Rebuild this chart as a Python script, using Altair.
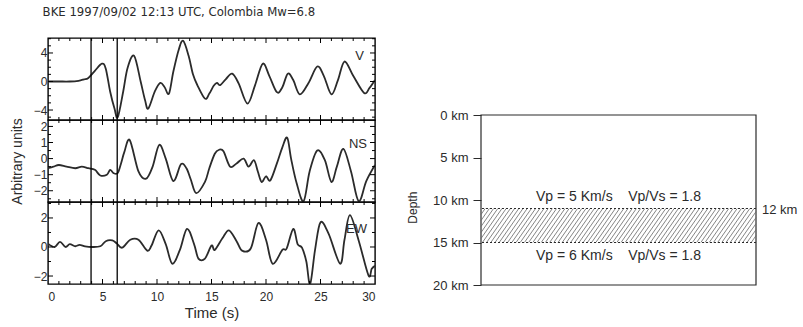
import altair as alt
import pandas as pd
import numpy as np

TITLE = "BKE 1997/09/02 12:13 UTC, Colombia Mw=6.8"
FONT = "Liberation Sans"
NARROW = "Liberation Sans Narrow, DejaVu Sans Condensed, Liberation Sans"

# ---- seismogram traces (time in s, arbitrary units) ----
v_t = [0, 1.0, 2.0, 2.8, 3.3, 3.7, 4.3, 4.95, 5.3, 5.7, 6.1, 6.4, 6.9, 7.3, 7.9,
       8.5, 8.9, 9.2, 9.8, 10.3, 10.7, 11.1, 11.5, 12.0, 12.4, 12.9, 13.3, 13.7,
       14.4, 14.8, 15.2, 15.5, 15.8, 16.3, 16.9, 17.5, 18.3, 19.0, 19.7, 20.3,
       21.0, 21.5, 22.0, 22.5, 23.1, 23.9, 24.7, 25.3, 26.0, 26.6, 27.2, 28.0,
       29.0, 29.5, 30.0]
v_amp = [0, 0, 0, 0.1, 0.3, 0.5, 1.5, 2.5, 1.8, -1.4, -3.8, -5.0, -1.4, 1.9, 3.6,
         0.0, -2.6, -3.8, -1.4, -0.2, -0.8, -1.7, 1.4, 4.5, 5.7, 3.6, 1.0, -0.5,
         -2.4, -1.7, -0.6, -0.2, -0.5, 0.3, 1.1, -0.3, -3.1, -0.5, 2.5, 0.8,
         -1.5, -0.8, 1.1, 0.2, -1.8, -0.2, 2.1, 0.8, -1.8, 0.2, 2.8, 0.8,
         -1.6, -0.9, 0.2]

ns_t = [0, 0.5, 1.0, 1.7, 2.5, 3.1, 3.7, 4.3, 4.8, 5.4, 5.7, 6.0, 6.4, 6.7, 7.0,
        7.5, 8.3, 9.0, 9.6, 10.2, 10.8, 11.5, 12.2, 12.7, 13.1, 13.6, 14.4, 14.8,
        15.3, 15.7, 16.1, 16.7, 17.3, 17.95, 18.4, 18.9, 19.25, 19.6, 20.0, 20.4,
        21.0, 21.5, 21.95, 22.3, 22.8, 23.45, 24.0, 24.7, 25.4, 26.0, 26.5, 27.1,
        27.8, 28.5, 29.2, 30.0]
ns_amp = [-0.6, -0.5, -0.4, -0.5, -0.6, -0.5, -0.6, -0.7, -1.05, -1.0, -0.7, -0.9,
          -0.9, -0.3, 0.4, 1.15, -0.8, -1.25, -0.5, 0.85, 0.0, -1.4, -0.35, -0.6,
          -1.3, -2.15, -1.45, -0.6, 0.3, 0.55, 0.45, -0.5, -0.3, 0.0, -0.5, -0.1,
          -0.8, -1.45, -1.1, -1.35, -0.3, 0.7, 1.3, 0.0, -1.5, -2.65, -0.8, 0.5,
          -0.1, -1.45, -0.5, 0.6, -0.8, -2.65, -1.4, -0.4]

ew_t = [0, 0.6, 1.1, 1.6, 2.0, 2.5, 2.9, 3.4, 4.0, 4.8, 5.3, 5.9, 6.3, 6.8, 7.55,
        8.3, 9.1, 9.5, 10.15, 10.8, 11.4, 12.1, 12.75, 13.4, 13.8, 14.4, 15.0,
        15.3, 16.0, 16.6, 17.3, 17.8, 18.6, 19.3, 20.0, 20.6, 21.5, 21.9, 22.5,
        22.9, 23.3, 23.7, 24.05, 24.5, 25.0, 25.75, 26.8, 27.2, 27.7, 28.5, 29.4,
        29.7, 30.0]
ew_amp = [0.23, 0.0, 0.35, 0.0, 0.2, 0.05, 0.15, 0.05, 0.0, 0.05, 0.4, 0.45, 0.25,
          -0.05, 0.5, 0.5, -0.25, 0.1, 1.15, 0.2, -1.15, -0.2, 1.25, 0.2, -0.8,
          -0.8, 0.1, -0.2, 0.6, 1.15, 0.4, -0.25, -0.1, 1.65, 0.5, -1.15, -0.2,
          -0.1, 1.25, 0.2, -0.05, -1.0, -2.55, -0.2, 1.7, 0.9, -1.15, 0.5, 2.2,
          0.45, -1.95, -1.5, -1.3]

picks = [3.95, 6.35]

x_major = [0, 5, 10, 15, 20, 25, 30]
x_minor = [t for t in range(0, 31) if t % 5 != 0]

v_domain, v_major, v_minor = [-5.4, 6.1], [-4, 0, 4], [-5, -3, -2, -1, 1, 2, 3, 5, 6]
ns_domain, ns_major, ns_minor = [-2.7, 2.4], [-2, -1, 0, 1, 2], [-2.5, -1.5, -0.5, 0.5, 1.5]
ew_domain, ew_major, ew_minor = [-2.55, 3.1], [-2, 0, 2], [-1, 1, 3]

# ---- depth model ----
depth_ticks = [0, 5, 10, 15, 20]
box_top, box_bottom = 0, 20
layer_top, layer_bottom = 11, 15
NB = "\u00a0"
upper_text = f"Vp{NB}={NB}5 Km/s{NB*4}Vp/Vs{NB}={NB}1.8"
lower_text = f"Vp{NB}={NB}6 Km/s{NB*4}Vp/Vs{NB}={NB}1.8"
upper_text_depth, lower_text_depth = 9.65, 16.6
layer_label, layer_label_depth = "12 km", 11.2
depth_label_depth = 10.9

W, H = 327, 82
RW, RH = 275, 247
depth_domain = [-9.06, 20]

ink = "#2b2b2b"


def panel(t, a, domain, major, minor, name, name_y, name_dx, bottom=False, ytitle=False):
    xs = alt.Scale(domain=[0, 30], nice=False, zero=False)
    ys = alt.Scale(domain=domain, nice=False, zero=False)
    if bottom:
        xaxis = alt.Axis(values=x_major, tickSize=0, domain=False, grid=False,
                         labelPadding=7, labelFontSize=12, title="Time (s)",
                         titleFontSize=15, titlePadding=3, format="d")
    else:
        xaxis = None
    yaxis = alt.Axis(values=major, tickSize=0, domain=False, grid=False,
                     labelPadding=1, labelFontSize=12, labelOverlap=False,
                     title="Arbitrary units" if ytitle else None,
                     titleFontSize=14, titlePadding=9)

    def X(f="t"):
        return alt.X(f + ":Q", scale=xs, axis=xaxis)

    def Y(f="a"):
        return alt.Y(f + ":Q", scale=ys, axis=yaxis)

    df = pd.DataFrame({"t": t, "a": a})
    line = alt.Chart(df).mark_line(interpolate="cardinal", color=ink, strokeWidth=1.8,
                                   clip=True).encode(x=X(), y=Y())
    pk = alt.Chart(pd.DataFrame({"t": picks})).mark_rule(color="black", strokeWidth=1.3).encode(x=X())
    layers = [line, pk]
    for vals, ln in ((x_minor, 3), ([5, 10, 15, 20, 25], 5)):
        d = pd.DataFrame({"t": vals})
        layers.append(alt.Chart(d).mark_rule(color="black", strokeWidth=1).encode(
            x=X(), y=alt.value(H), y2=alt.value(H - ln)))
        layers.append(alt.Chart(d).mark_rule(color="black", strokeWidth=1).encode(
            x=X(), y=alt.value(0), y2=alt.value(ln)))
    for vals, ln in ((minor, 3), (major, 5)):
        d = pd.DataFrame({"a": vals})
        layers.append(alt.Chart(d).mark_rule(color="black", strokeWidth=1).encode(
            y=Y(), x=alt.value(0), x2=alt.value(ln)))
        layers.append(alt.Chart(d).mark_rule(color="black", strokeWidth=1).encode(
            y=Y(), x=alt.value(W), x2=alt.value(W - ln)))
    lab = alt.Chart(pd.DataFrame({"s": [name]})).mark_text(
        align="right", baseline="middle", fontSize=13, font=FONT, color=ink).encode(
        x=alt.value(W - name_dx), y=alt.value(name_y), text="s:N")
    layers.append(lab)
    return alt.layer(*layers).properties(width=W, height=H)


top = panel(v_t, v_amp, v_domain, v_major, v_minor, "V", 18, 11)
mid = panel(ns_t, ns_amp, ns_domain, ns_major, ns_minor, "NS", 24, 8, ytitle=True)
bot = panel(ew_t, ew_amp, ew_domain, ew_major, ew_minor, "EW", 27, 8, bottom=True)
left = alt.vconcat(top, mid, bot, spacing=0, bounds="flush")

# ---- right: layered depth model ----
xs_r = alt.Scale(domain=[0, 1], nice=False, zero=False)
ys_r = alt.Scale(domain=depth_domain, reverse=True, nice=False, zero=False)
yaxis_r = alt.Axis(values=depth_ticks, labelExpr="datum.value + ' km'",
                   tickSize=8, tickColor=ink, tickWidth=1, domain=False, grid=False,
                   labelPadding=5, labelFontSize=13, labelOverlap=False, title=None)


def RX(f="x"):
    return alt.X(f + ":Q", scale=xs_r, axis=None)


def RY(f):
    return alt.Y(f + ":Q", scale=ys_r, axis=yaxis_r)


px_per_km = RH / (depth_domain[1] - depth_domain[0])
hpx = (layer_bottom - layer_top) * px_per_km
rows = []
slant, step = 0.7, 4.2
for c in np.arange(-hpx * slant, RW, step):
    u0, u1 = max(0.0, c), min(float(RW), c + hpx * slant)
    if u1 <= u0:
        continue
    v0, v1 = (u0 - c) / slant, (u1 - c) / slant
    rows.append(dict(x=u0 / RW, x2=u1 / RW,
                     y=layer_bottom - v0 / px_per_km, y2=layer_bottom - v1 / px_per_km))
hatch_df = pd.DataFrame(rows)

box = alt.Chart(pd.DataFrame({"x": [0], "x2": [1], "y": [box_top], "y2": [box_bottom]})).mark_rect(
    fillOpacity=0, stroke=ink, strokeWidth=1.2).encode(
    x=RX(), x2="x2:Q", y=RY("y"), y2="y2:Q")
hatch = alt.Chart(hatch_df).mark_rule(color="#666", strokeWidth=0.8).encode(
    x=RX(), x2="x2:Q", y=RY("y"), y2="y2:Q")
edges = alt.Chart(pd.DataFrame({"d": [layer_top, layer_bottom]})).mark_rule(
    color=ink, strokeWidth=1.2, strokeDash=[2, 2]).encode(y=RY("d"))
texts = alt.Chart(pd.DataFrame({"s": [upper_text, lower_text],
                                "d": [upper_text_depth, lower_text_depth]})).mark_text(
    fontSize=14, font=FONT, color=ink, align="center", baseline="middle").encode(
    x=alt.value(RW / 2), y=RY("d"), text="s:N")
lbl12 = alt.Chart(pd.DataFrame({"s": [layer_label], "d": [layer_label_depth]})).mark_text(
    fontSize=13, font=FONT, color=ink, align="left", baseline="middle").encode(
    x=alt.value(RW + 6), y=RY("d"), text="s:N")
dlab = alt.Chart(pd.DataFrame({"s": ["Depth"], "d": [depth_label_depth]})).mark_text(
    fontSize=12, font=FONT, color=ink, align="center", baseline="middle", angle=270).encode(
    x=alt.value(-68), y=RY("d"), text="s:N")
right = alt.layer(box, hatch, edges, texts, lbl12, dlab).properties(
    width=RW, height=RH, view=alt.ViewBackground(strokeOpacity=0))

chart = alt.hconcat(left, right, spacing=29).properties(
    title=alt.TitleParams(TITLE, anchor="start", fontSize=13, font=NARROW,
                          fontWeight="normal", color=ink, dx=33, offset=18),
    padding={"left": 9, "top": 5, "right": 0, "bottom": 0},
    background="white",
).configure_view(stroke="black", strokeWidth=1.4).configure_axis(
    labelFont=FONT, titleFont=FONT, labelColor=ink, titleColor=ink,
    titleFontWeight="normal")

chart.save("out.html", embed_options={"renderer": "svg", "actions": False})
